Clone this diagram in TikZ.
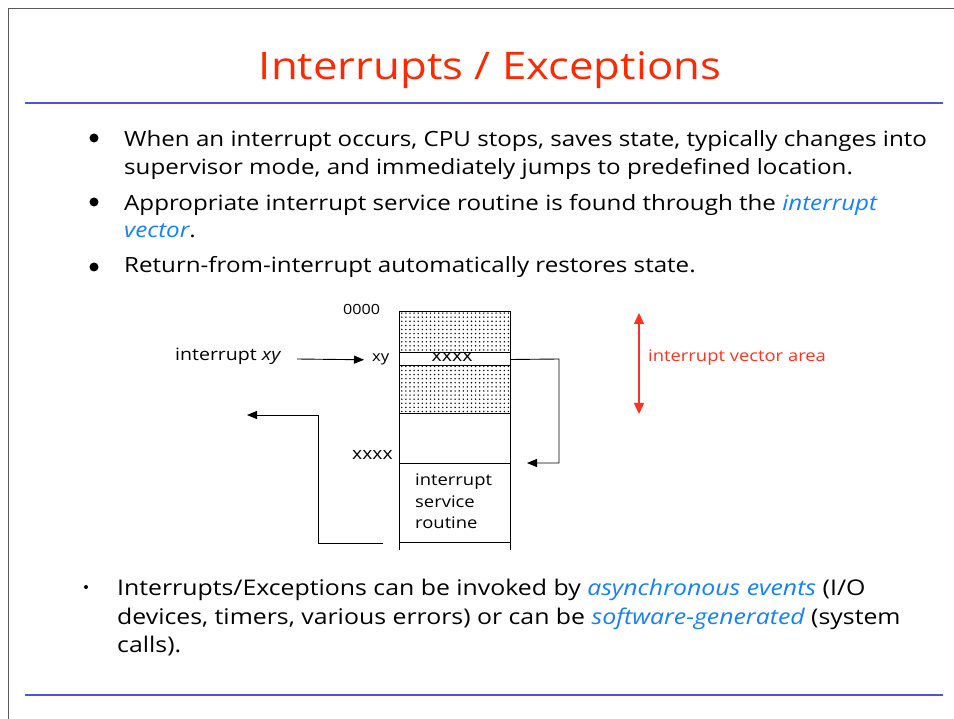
\documentclass[tikz,border=0pt]{standalone}
\usepackage{fontspec}
\setmainfont{Open Sans}[FakeStretch=1.15]
\usetikzlibrary{arrows.meta,patterns.meta}
\definecolor{titlered}{RGB}{255,40,0}
\definecolor{rulebl}{RGB}{80,85,215}
\definecolor{hlblue}{RGB}{20,128,255}
\definecolor{arrred}{RGB}{255,50,30}
\definecolor{framegray}{RGB}{90,90,90}
\begin{document}
\begin{tikzpicture}[x=1pt,y=-1pt,
  txt/.style={anchor=base west,inner sep=0pt,font=\fontsize{21}{25}\selectfont},
  txtb/.style={anchor=base west,inner sep=0pt,font=\fontsize{21.6}{25}\selectfont},
  bul/.style={circle,fill=black,inner sep=0pt,minimum size=9pt},
  small/.style={inner sep=0pt,font=\fontsize{16}{18}\selectfont},
  memline/.style={line width=1pt},
  conn/.style={line width=0.9pt,-{Triangle[length=10pt,width=8pt]}},
  dotfill/.style={pattern={Dots[distance=4.1pt,radius=0.8pt]}}]
\useasboundingbox (0,0) rectangle (954,719);
\fill[white] (0,0) rectangle (954,719);
% frame
\draw[framegray,line width=1pt] (8,719) -- (8,9) -- (954,9);
% title
\node[anchor=base,inner sep=0pt,text=titlered,font=\fontsize{38}{42}\selectfont] (title) at (490,80) {Interrupts / Exceptions};
\draw[rulebl,line width=2pt] (25,103) -- (943,103);
\draw[rulebl,line width=2pt] (25,695) -- (943,695);
% bullets
\node[bul] (b1) at (94,138) {};
\node[bul] (b2) at (94,202) {};
\node[bul] (b3) at (94,267) {};
\node[txt] (l1) at (124,147) {When an interrupt occurs, CPU stops, saves state, typically changes into};
\node[txt] (l2) at (124,175) {supervisor mode, and immediately jumps to predefined location.};
\node[txt] (l3) at (124,211) {Appropriate interrupt service routine is found through the \textcolor{hlblue}{\itshape interrupt}};
\node[txt] (l4) at (124,238) {\textcolor{hlblue}{\itshape vector}.};
\node[txt] (l5) at (124,273) {Return-from-interrupt automatically restores state.};
% bottom bullet
\node[circle,fill=black,inner sep=0pt,minimum size=4pt] (b4) at (86,587) {};
\node[txtb] (m1) at (117,595) {Interrupts/Exceptions can be invoked by \textcolor{hlblue}{\itshape asynchronous events} (I/O};
\node[txtb] (m2) at (117,624) {devices, timers, various errors) or can be \textcolor{hlblue}{\itshape software-generated} (system};
\node[txtb] (m3) at (117,652) {calls).};
% memory column
\fill[dotfill] (399,312) rectangle (510,353);
\fill[dotfill] (399,366) rectangle (510,414);
\node[minimum width=111pt,minimum height=13pt,inner sep=0pt,draw,line width=1pt,fill=white] (slot) at (454.5,359.5) {};
\node[small,font=\fontsize{17}{18}\selectfont] (slotx) at (452,357) {xxxx};
\node[minimum width=111pt,minimum height=78pt,inner sep=0pt,draw,line width=1pt] (isr) at (454.5,503) {};
\node[small,anchor=north west,align=left,font=\fontsize{16}{21.5}\selectfont] (isrt) at (415,474) {interrupt\\service\\routine};
\draw[memline] (399,550) -- (399,312) -- (510,312) -- (510,550);
\draw[memline] (399,414) -- (510,414);
% labels
\node[small,anchor=base west,font=\fontsize{14}{15}\selectfont] (zero) at (343,315) {0000};
\node[small,anchor=base west,font=\fontsize{17}{18}\selectfont] (intxy) at (175,361) {interrupt \textit{xy}};
\node[small,anchor=base west,font=\fontsize{14.5}{15}\selectfont] (xylab) at (372,362) {xy};
\node[small,anchor=base west,font=\fontsize{16.8}{18}\selectfont] (xx2) at (352,460) {xxxx};
\node[small,anchor=base west,text=arrred,font=\fontsize{16}{18}\selectfont] (iva) at (648,362) {interrupt vector area};
% connectors
\coordinate (a1s) at (297,359);
\draw[conn,shorten >=8pt] (a1s) -- (xylab.west);
\coordinate (rt) at (527,463);
\draw[conn] (slot.east) -- (559,359) -- (559,463) -- (rt);
\coordinate (retS) at (383,543);
\coordinate (retE) at (247,415);
\draw[conn] (retS) -- (318,543) -- (318,415) -- (retE);
\coordinate (va1) at (639,313);
\coordinate (va2) at (639,414);
\draw[arrred,line width=1.2pt,{Triangle[length=11pt,width=10pt]}-{Triangle[length=11pt,width=10pt]}] (va1) -- (va2);
\end{tikzpicture}
\end{document}
